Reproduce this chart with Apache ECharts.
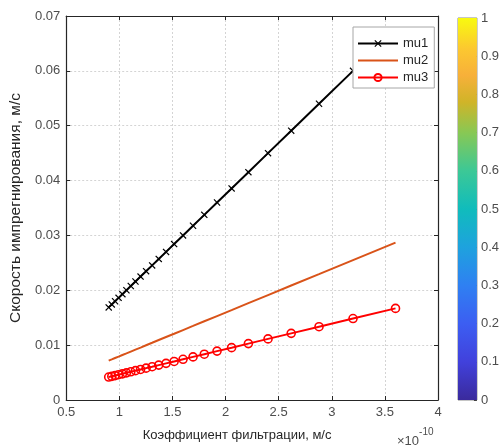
<!DOCTYPE html>
<html>
<head>
<meta charset="utf-8">
<script src="https://cdn.jsdelivr.net/npm/echarts@6/dist/echarts.min.js"></script>
<style>html,body{margin:0;padding:0;background:#fff}#c{width:502px;height:448px}</style>
</head>
<body>
<div id="c"></div>
<script>
// Filtration coefficient (×1e-10 m/s)
const kValues = [0.900,0.929,0.960,0.993,1.029,1.067,1.108,1.152,1.200,1.252,1.309,1.371,1.440,1.516,1.600,1.694,1.800,1.920,2.057,2.215,2.400,2.618,2.880,3.200,3.600];
const mu1 = [0.01688,0.01742,0.01800,0.01862,0.01929,0.02001,0.02078,0.02160,0.02250,0.02348,0.02454,0.02571,0.02700,0.02843,0.03000,0.03176,0.03375,0.03600,0.03857,0.04153,0.04500,0.04909,0.05400,0.06000];
const mu2 = [0.00717,0.00740,0.00765,0.00791,0.00820,0.00850,0.00883,0.00918,0.00956,0.00998,0.01043,0.01093,0.01148,0.01208,0.01275,0.01350,0.01435,0.01530,0.01639,0.01765,0.01913,0.02087,0.02295,0.02550,0.02869];
const mu3 = [0.00418,0.00431,0.00445,0.00461,0.00477,0.00495,0.00514,0.00535,0.00557,0.00581,0.00607,0.00636,0.00668,0.00703,0.00742,0.00786,0.00835,0.00891,0.00954,0.01028,0.01114,0.01215,0.01336,0.01485,0.01670];
const xTickLabels = ['0.5','1','1.5','2','2.5','3','3.5','4'];
const yTickLabels = ['0','0.01','0.02','0.03','0.04','0.05','0.06','0.07'];
const cbTickLabels = ['0','0.1','0.2','0.3','0.4','0.5','0.6','0.7','0.8','0.9','1'];
const seriesNames = ['mu1','mu2','mu3'];
const xName = 'Коэффициент фильтрации, м/с';
const yName = 'Скорость импрегнирования, м/с';

const pair = (ys) => ys.map((y, i) => [kValues[i], y]);
const font = 'Liberation Sans, Arial, sans-serif';
const axisCol = '#262626';
const labCol = '#4d4d4d';
const gridLine = {show: true, lineStyle: {color: '#d4d4d4', type: [2, 2], width: 1}};
const xMark = 'path://M0,1.2L1.2,0L5,3.8L8.8,0L10,1.2L6.2,5L10,8.8L8.8,10L5,6.2L1.2,10L0,8.8L3.8,5Z';

const chart = echarts.init(document.getElementById('c'));
chart.setOption({
  animation: false,
  backgroundColor: '#fff',
  grid: [
    {left: 62, top: 16, width: 376, height: 384, show: false},
    {left: 458, top: 18, width: 21, height: 382, show: true, borderColor: '#8c8c8c', borderWidth: 1}
  ],
  xAxis: [
    {type: 'value', gridIndex: 0, min: 0.5, max: 4, interval: 0.5,
     name: xName, nameLocation: 'middle', nameGap: 29,
     nameTextStyle: {fontFamily: font, fontSize: 13, color: '#262626', padding: [0, 30, 0, 0]},
     axisLine: {show: true, onZero: false, lineStyle: {color: axisCol, width: 1.2}},
     axisTick: {show: true, inside: true, length: 4, lineStyle: {color: axisCol}},
     axisLabel: {fontFamily: font, fontSize: 13, color: labCol, margin: 6,
       formatter: (v) => xTickLabels[Math.round((v - 0.5) / 0.5)]},
     splitLine: gridLine},
    {type: 'value', gridIndex: 0, position: 'top', min: 0.5, max: 4, interval: 0.5,
     axisLine: {show: true, onZero: false, lineStyle: {color: axisCol, width: 1.2}},
     axisTick: {show: true, inside: true, length: 4, lineStyle: {color: axisCol}},
     axisLabel: {show: false}, splitLine: {show: false}},
    {type: 'category', gridIndex: 1, data: ['c'], show: false}
  ],
  yAxis: [
    {type: 'value', gridIndex: 0, min: 0, max: 0.07, interval: 0.01,
     name: yName, nameLocation: 'middle', nameGap: 37,
     nameTextStyle: {fontFamily: font, fontSize: 15.5, color: '#262626'},
     axisLine: {show: true, onZero: false, lineStyle: {color: axisCol, width: 1.2}},
     axisTick: {show: true, inside: true, length: 4, lineStyle: {color: axisCol}},
     axisLabel: {fontFamily: font, fontSize: 13, color: labCol, margin: 6,
       formatter: (v) => yTickLabels[Math.round(v / 0.01)]},
     splitLine: gridLine},
    {type: 'value', gridIndex: 0, position: 'right', min: 0, max: 0.07, interval: 0.01,
     axisLine: {show: true, onZero: false, lineStyle: {color: axisCol, width: 1.2}},
     axisTick: {show: true, inside: true, length: 4, lineStyle: {color: axisCol}},
     axisLabel: {show: false}, splitLine: {show: false}},
    {type: 'value', gridIndex: 1, position: 'right', min: 0, max: 1, interval: 0.1,
     axisLine: {show: false},
     axisTick: {show: true, inside: true, length: 3, lineStyle: {color: '#404040'}},
     axisLabel: {fontFamily: font, fontSize: 13, color: labCol, margin: 4,
       formatter: (v) => cbTickLabels[Math.round(v / 0.1)]},
     splitLine: {show: false}}
  ],
  legend: {
    orient: 'vertical', left: 353, top: 27,
    data: [
      {name: seriesNames[0]},
      {name: seriesNames[1], itemStyle: {opacity: 0}},
      {name: seriesNames[2]}
    ],
    backgroundColor: '#fff', borderColor: '#a6a6a6', borderWidth: 1,
    padding: [10, 6, 4, 4], itemGap: 4, itemWidth: 40, itemHeight: 9,
    textStyle: {fontFamily: font, fontSize: 13, color: '#262626'}
  },
  graphic: [{
    type: 'text', left: 397, top: 427,
    style: {
      text: '{a|×10}{b|-10}', fontFamily: font,
      rich: {
        a: {fontSize: 13, fill: labCol, fontFamily: font, verticalAlign: 'bottom', padding: [8, 0, 0, 0]},
        b: {fontSize: 10, fill: labCol, fontFamily: font, verticalAlign: 'top', padding: [0, 0, 6, 0]}
      }
    }
  }],
  series: [
    {name: seriesNames[0], type: 'line', xAxisIndex: 0, yAxisIndex: 0, data: pair(mu1),
     symbol: xMark, symbolSize: 7, showSymbol: true,
     lineStyle: {color: '#000', width: 2}, itemStyle: {color: '#000'}, z: 3},
    {name: seriesNames[1], type: 'line', xAxisIndex: 0, yAxisIndex: 0, data: pair(mu2),
     symbol: 'none', lineStyle: {color: '#D95319', width: 2}, itemStyle: {color: '#D95319'}, z: 2},
    {name: seriesNames[2], type: 'line', xAxisIndex: 0, yAxisIndex: 0, data: pair(mu3),
     symbol: 'circle', symbolSize: 8, showSymbol: true,
     lineStyle: {color: '#ff0000', width: 2},
     itemStyle: {color: 'rgba(255,255,255,0)', borderColor: '#ff0000', borderWidth: 1.6}, z: 2},
    {type: 'bar', xAxisIndex: 2, yAxisIndex: 2, data: [1], barWidth: '100%', silent: true,
     itemStyle: {color: {type: 'linear', x: 0, y: 1, x2: 0, y2: 0, colorStops: [
       {offset: 0.0, color: '#3a2a9c'},
       {offset: 0.1, color: '#4141dc'},
       {offset: 0.2, color: '#3c5ef2'},
       {offset: 0.3, color: '#2f80f2'},
       {offset: 0.4, color: '#1ea2de'},
       {offset: 0.5, color: '#10bcbc'},
       {offset: 0.6, color: '#3cc896'},
       {offset: 0.7, color: '#88c854'},
       {offset: 0.78, color: '#d0b428'},
       {offset: 0.85, color: '#f7b03a'},
       {offset: 0.92, color: '#fcc830'},
       {offset: 1.0, color: '#f8fa0f'}
     ]}}}
  ]
});
</script>
</body>
</html>
